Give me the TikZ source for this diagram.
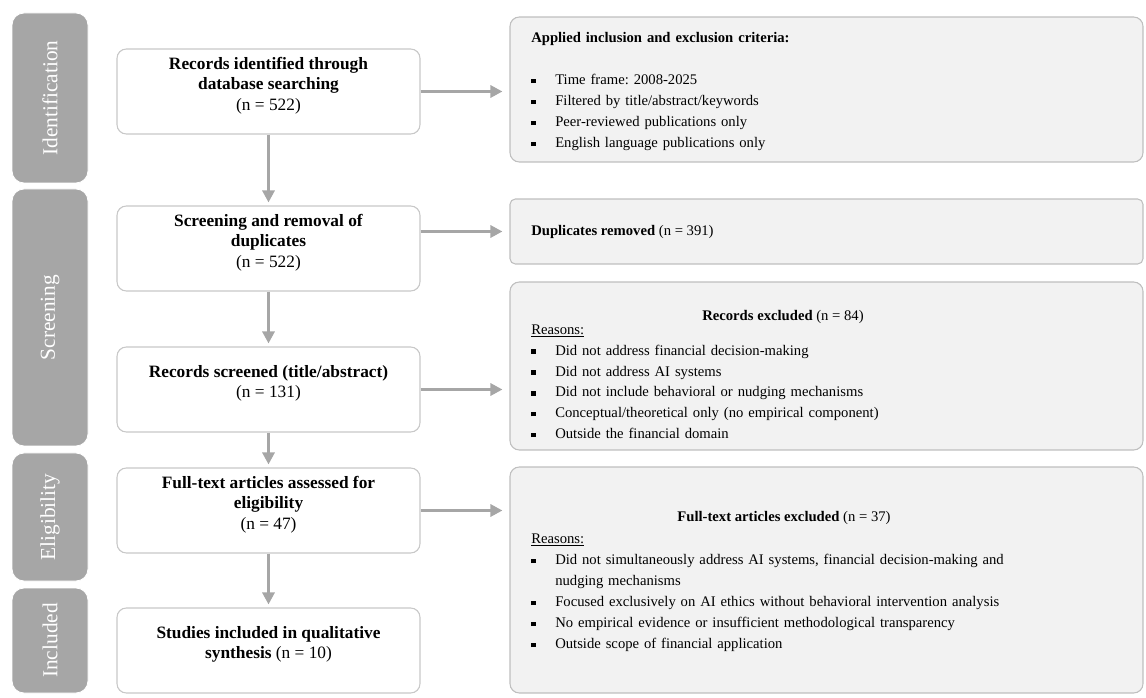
\documentclass[tikz,border=0pt]{standalone}
\usepackage{fontspec}
\setmainfont{Liberation Serif}
\usetikzlibrary{fit,arrows.meta}
\definecolor{phasegray}{HTML}{A6A6A6}
\definecolor{boxfill}{HTML}{F2F2F2}
\definecolor{boxline}{HTML}{BFBFBF}
\definecolor{mainline}{HTML}{C8C8C8}
\definecolor{arrgray}{HTML}{A6A6A6}
\newcommand\bsq{\makebox[18pt][l]{\rule[1.0pt]{3.4pt}{3.4pt}}}
\newcommand\itm{\par\noindent\hangindent=18pt\hangafter=1\bsq}
\tikzset{
  phasebox/.style={fill=phasegray, draw=white, line width=0.6pt, rounded corners=9pt, inner sep=0pt},
  phasetext/.style={text=white, font=\fontsize{16}{19}\selectfont, inner sep=0pt},
  mainbox/.style={draw=mainline, fill=white, line width=0.8pt, rounded corners=7pt, inner sep=0pt,
                  align=center, font=\fontsize{13}{15.4}\selectfont},
  sidebox/.style={draw=boxline, fill=boxfill, line width=0.8pt, rounded corners=7pt, inner sep=0pt},
  sidetext/.style={inner sep=0pt, text width=378pt, align=left, font=\fontsize{11}{15.75}\selectfont},
  sidetitle/.style={inner sep=0pt, font=\fontsize{11}{13}\selectfont},
  arr/.style={draw=arrgray, line width=2.25pt, -{Triangle[length=9pt,width=9pt]}},
}
\begin{document}
\frenchspacing
\begin{tikzpicture}[x=0.75pt, y=-0.75pt]
\useasboundingbox (0,0) rectangle (1146,698);

% phase boxes
\node[phasebox, fit={(12,13) (88,183)}] (p1) {};
\node[phasebox, fit={(12,189) (88,446)}] (p2) {};
\node[phasebox, fit={(12,453) (88,581)}] (p3) {};
\node[phasebox, fit={(12,588) (88,693)}] (p4) {};
\node[phasetext, rotate=90] at (p1.center) {Identification};
\node[phasetext, rotate=90] at (p2.center) {Screening};
\node[phasetext, rotate=90] at (p3.center) {Eligibility};
\node[phasetext, rotate=90] at (p4.center) {Included};

% main boxes
\node[mainbox, fit={(117,49) (420,134)}] (B1) {\textbf{Records identified through}\\\textbf{database searching}\\(n = 522)};
\node[mainbox, fit={(117,206) (420,291)}] (B2) {\textbf{Screening and removal of}\\\textbf{duplicates}\\(n = 522)};
\node[mainbox, fit={(117,347) (420,432)}] (B3) {\textbf{Records screened (title/abstract)}\\(n = 131)};
\node[mainbox, fit={(117,468) (420,553)}] (B4) {\textbf{Full-text articles assessed for}\\\textbf{eligibility}\\(n = 47)};
\node[mainbox, fit={(117,608) (420,693)}] (B5) {\textbf{Studies included in qualitative}\\\textbf{synthesis} (n = 10)};

% side boxes
\node[sidebox, fit={(510,17) (1143,162)}] (A) {};
\node[sidebox, rounded corners=4pt, fit={(510,199) (1143,264)}] (D) {};
\node[sidebox, fit={(510,282) (1143,450)}] (E) {};
\node[sidebox, fit={(510,467) (1143,693)}] (F) {};

\node[sidetext, anchor=base west] (At) at (531,42.5) {\parindent=0pt\raggedright
\textbf{Applied inclusion and exclusion criteria:}\par\mbox{}%
\itm Time frame: 2008-2025%
\itm Filtered by title/abstract/keywords%
\itm Peer-reviewed publications only%
\itm English language publications only\par};

\node[sidetitle, anchor=west] (Dt) at (531,232) {\textbf{Duplicates removed} (n = 391)};

\node[sidetitle] (Et) at (783,317) {\textbf{Records excluded} (n = 84)};
\node[sidetext, anchor=base west, font=\fontsize{11}{15.6}\selectfont] (Er) at (531,334.5) {\parindent=0pt\raggedright
\underline{Reasons:}%
\itm Did not address financial decision-making%
\itm Did not address AI systems%
\itm Did not include behavioral or nudging mechanisms%
\itm Conceptual/theoretical only (no empirical component)%
\itm Outside the financial domain\par};

\node[sidetitle] (Ft) at (784,518) {\textbf{Full-text articles excluded} (n = 37)};
\node[sidetext, anchor=base west] (Fr) at (531,543.5) {\parindent=0pt\raggedright
\underline{Reasons:}%
\itm Did not simultaneously address AI systems, financial decision-making and\newline nudging mechanisms%
\itm Focused exclusively on AI ethics without behavioral intervention analysis%
\itm No empirical evidence or insufficient methodological transparency%
\itm Outside scope of financial application\par};

% connectors
\draw[arr, shorten >=2.25pt] (B1) -- (B2);
\draw[arr, shorten >=2.25pt] (B2) -- (B3);
\draw[arr, shorten >=2.25pt] (B3) -- (B4);
\draw[arr, shorten >=2.25pt] (B4) -- (B5);
\draw[arr, shorten >=5.25pt] (B1.east) -- (B1.east -| A.west);
\draw[arr, shorten >=5.25pt] (B2.east |- D.west) -- (D.west);
\draw[arr, shorten >=5.25pt] (B3.east) -- (B3.east -| E.west);
\draw[arr, shorten >=5.25pt] (B4.east) -- (B4.east -| F.west);
\end{tikzpicture}
\end{document}
